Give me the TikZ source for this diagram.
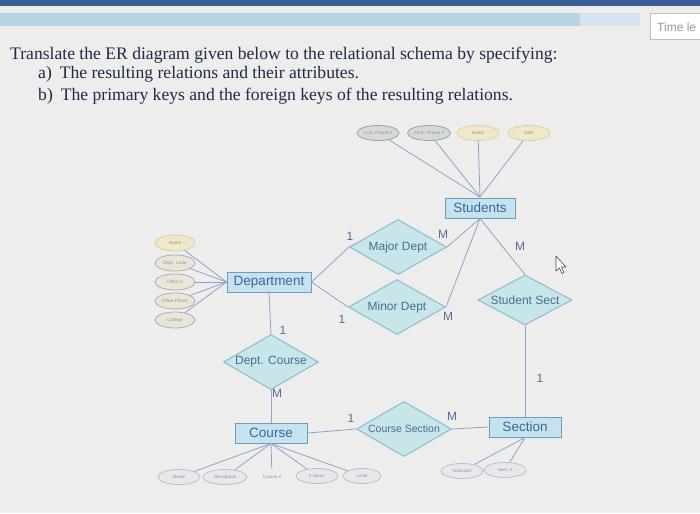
\documentclass[tikz,border=0pt]{standalone}
\usepackage{fontspec}
\setmainfont{Liberation Serif}
\setsansfont{Liberation Sans}
\usetikzlibrary{shapes.geometric}
\definecolor{bgc}{HTML}{EDEDEB}
\definecolor{barblue}{HTML}{3C5C96}
\definecolor{bandblue}{HTML}{B9D3E6}
\definecolor{titlec}{HTML}{1E2A4C}
\definecolor{entfill}{HTML}{C6E2EE}
\definecolor{entdraw}{HTML}{6A9CC6}
\definecolor{enttext}{HTML}{3A66A0}
\definecolor{relfill}{HTML}{C8E6EA}
\definecolor{reldraw}{HTML}{86BCD2}
\definecolor{reltext}{HTML}{4E6A8E}
\definecolor{linec}{HTML}{8EA4CC}
\definecolor{cardc}{HTML}{5A6AA0}
\definecolor{attrgray}{HTML}{D6DAD6}
\definecolor{attrgraydraw}{HTML}{98A2A8}
\definecolor{attryel}{HTML}{F0E8C8}
\definecolor{attryeldraw}{HTML}{D8CFAE}
\definecolor{attrbeige}{HTML}{EBE5D8}
\definecolor{attrbeigedraw}{HTML}{ADADB8}
\definecolor{attrpale}{HTML}{E8E8EC}
\definecolor{attrpaledraw}{HTML}{BCC0CC}
\begin{document}
\begin{tikzpicture}[x=1pt,y=-1pt,
  entbox/.style={draw=entdraw,fill=entfill,line width=1pt,minimum width=#1,minimum height=20pt,inner sep=0pt,text=enttext,font=\sffamily\fontsize{13.5}{14}\selectfont},
  relbox/.style={diamond,draw=reldraw,fill=relfill,line width=1pt,minimum width=97pt,minimum height=55pt,inner sep=0pt,aspect=1.8,text=reltext,font=\sffamily\fontsize{12}{13}\selectfont},
  attrbox/.style={ellipse,draw=#1draw,fill=#1,line width=0.8pt,minimum width=42pt,minimum height=15pt,inner sep=0pt,text=gray!85,font=\sffamily\fontsize{4.5}{5}\selectfont},
  conn/.style={draw=linec,line width=0.8pt},
  card/.style={text=cardc,font=\sffamily\fontsize{12}{13}\selectfont,inner sep=0pt},
  titletxt/.style={anchor=base west,inner sep=0pt,text=titlec,font=\fontsize{17.6}{19}\selectfont}]
\useasboundingbox (0,0) rectangle (700,513);
\fill[bgc] (0,0) rectangle (700,513);
% screen top
\fill[barblue] (0,0) rectangle (700,6);
\fill[bandblue] (0,13) rectangle (580,26);
\fill[bandblue!60!white] (580,13) rectangle (640,26);
\node[draw=gray!50,fill=white,line width=0.6pt,minimum width=52pt,minimum height=26pt,anchor=north west,inner sep=0pt] (timebox) at (650,13) {};
\node[anchor=west,text=gray!80,font=\sffamily\fontsize{12}{13}\selectfont,inner sep=0pt] (timetxt) at (657,27) {Time le};
% title
\node[titletxt] (t1) at (10,60) {Translate the ER diagram given below to the relational schema by specifying:};
\node[titletxt] (t2) at (38,79) {a)\hspace{8pt}The resulting relations and their attributes.};
\node[titletxt] (t3) at (38,101) {b)\hspace{8pt}The primary keys and the foreign keys of the resulting relations.};
% entities
\node[entbox=70pt] (stu) at (480,208) {Students};
\node[entbox=84pt] (dep) at (269,282) {Department};
\node[entbox=72pt] (crs) at (271,433) {Course};
\node[entbox=72pt] (sec) at (525,427) {Section};
% relationships
\node[relbox] (maj) at (398,247) {Major Dept};
\node[relbox] (mnr) at (397,307) {Minor Dept};
\node[relbox,minimum width=94pt,minimum height=50pt] (sts) at (525,300) {Student Sect};
\node[relbox,minimum width=95pt,minimum height=55pt] (dcr) at (271,362) {Dept. Course};
\node[relbox,minimum width=95pt,minimum height=55pt,font=\sffamily\fontsize{10.5}{11}\selectfont] (csc) at (404,429) {Course Section};
% student attributes
\node[attrbox=attrgray] (sa1) at (378,133) {Curr. Phone \#};
\node[attrbox=attrgray] (sa2) at (429,133) {Perm. Phone \#};
\node[attrbox=attryel] (sa3) at (478,133) {Name};
\node[attrbox=attryel] (sa4) at (529,133) {SSN};
% department attributes
\node[attrbox=attryel,minimum width=40pt,minimum height=16pt] (da1) at (175,243) {Name};
\node[attrbox=attrbeige,minimum width=40pt,minimum height=16pt] (da2) at (175,263) {Dept. Code};
\node[attrbox=attrbeige,minimum width=40pt,minimum height=16pt] (da3) at (175,282) {Office \#};
\node[attrbox=attrbeige,minimum width=40pt,minimum height=16pt] (da4) at (175,301) {Office Phone};
\node[attrbox=attrbeige,minimum width=40pt,minimum height=16pt] (da5) at (175,320) {College};
% course attributes
\node[attrbox=attrpale] (ca1) at (179,477) {Name};
\node[attrbox=attrpale,minimum width=44pt] (ca2) at (225,477) {Description};
\node[attrbox=attrpale,draw=none,fill=none] (ca3) at (272,477) {Course \#};
\node[attrbox=attrpale] (ca4) at (317,476) {\# Hours};
\node[attrbox=attrpale,minimum width=38pt] (ca5) at (362,476) {Level};
% section attributes
\node[attrbox=attrpale] (xa1) at (462,471) {Instructor};
\node[attrbox=attrpale] (xa2) at (505,470) {Sect. \#};
% attribute connectors
\coordinate (stutop) at (480,197);
\foreach \a in {sa1,sa2,sa3,sa4} \draw[conn] (\a) -- (stutop);
\foreach \a in {da1,da2,da3,da4,da5} \draw[conn] (\a) -- (dep.west);
\foreach \a in {ca1,ca2,ca3,ca4,ca5} \draw[conn] (\a) -- (crs.south);
\foreach \a in {xa1,xa2} \draw[conn] (\a) -- (sec.south);
% relationship connectors
\draw[conn] (dep.east) -- (maj.west);
\draw[conn] (dep.east) -- (mnr.west);
\draw[conn] (maj.east) -- (stu.south);
\draw[conn] (mnr.east) -- (stu.south);
\draw[conn] (stu.south) -- (sts.north);
\draw[conn] (sts.south) -- (sec.north);
\draw[conn] (dep.south) -- (dcr.north);
\draw[conn] (dcr.south) -- (crs.north);
\draw[conn] (crs.east) -- (csc.west);
\draw[conn] (csc.east) -- (sec.west);
% cardinalities
\node[card] (c1) at (350,236) {1};
\node[card] (c2) at (443,234) {M};
\node[card] (c3) at (342,319) {1};
\node[card] (c4) at (448,316) {M};
\node[card] (c5) at (520,246) {M};
\node[card] (c6) at (540,378) {1};
\node[card] (c7) at (283,330) {1};
\node[card] (c8) at (277,393) {M};
\node[card] (c9) at (351,418) {1};
\node[card] (c10) at (452,416) {M};
% mouse cursor
\draw[gray!60!black,fill=white,line width=0.6pt,line join=round]
  (556,256) -- (556,271) -- (559.5,268) -- (562,273.5) -- (564,272.5) -- (561.5,267) -- (566,267) -- cycle;
\end{tikzpicture}
\end{document}
